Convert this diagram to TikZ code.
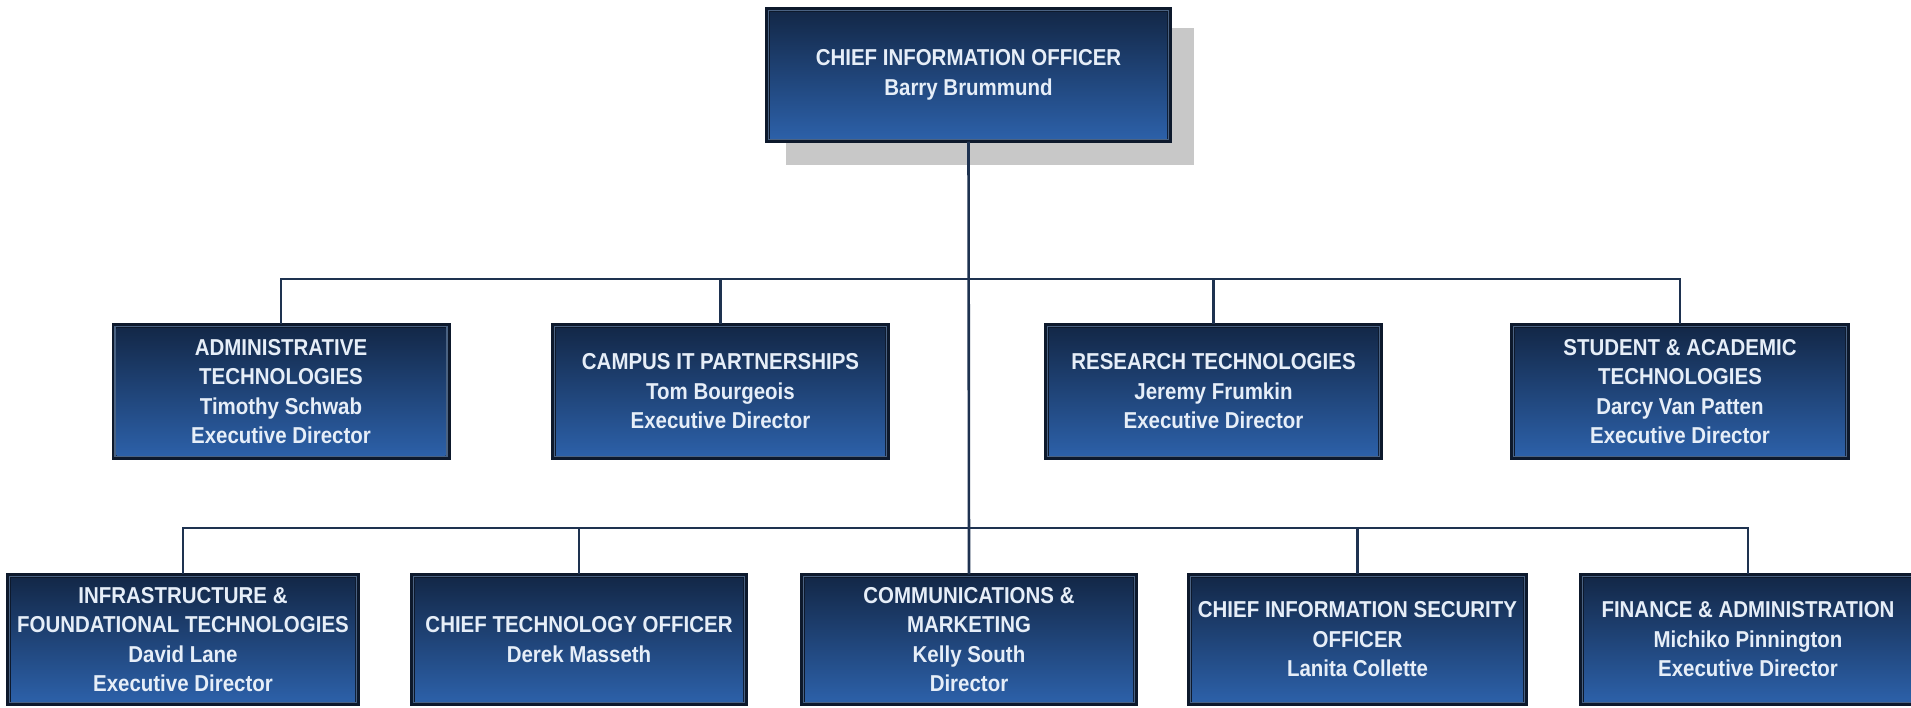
\documentclass[tikz,border=0pt]{standalone}
\usepackage{fontspec}
\setmainfont{Liberation Sans}
% slightly narrowed face for the box captions
\newfontfamily\boxfont[FakeStretch=0.89]{Liberation Sans}
\definecolor{frame}{HTML}{0D192C}
\definecolor{edge}{HTML}{4A6282}
\definecolor{topblue}{HTML}{132848}
\definecolor{botblue}{HTML}{2C60A8}
\definecolor{ink}{HTML}{E6EEF8}
\definecolor{wire}{HTML}{1E3250}
\definecolor{shadowgray}{HTML}{C8C8C8}
\begin{document}
\begin{tikzpicture}[x=1pt,y=1pt,
  orgbox/.style={rectangle, inner sep=0pt, outer sep=0pt, fill=frame,
    minimum height=#1, align=center, text=ink,
    font=\boxfont\fontsize{23}{29.5}\selectfont\bfseries,
    path picture={
      \draw[edge, line width=1.2pt]
        ([shift={(3.5pt,3.5pt)}]path picture bounding box.south west) rectangle
        ([shift={(-3.5pt,-3.5pt)}]path picture bounding box.north east);
      \shade[top color=topblue, bottom color=botblue]
        ([shift={(5pt,5pt)}]path picture bounding box.south west) rectangle
        ([shift={(-5pt,-5pt)}]path picture bounding box.north east);
    }},
  orgbox/.default=137pt,
  wireline/.style={draw=wire, line width=2.6pt, line cap=rect}]
\useasboundingbox (0,0) rectangle (1911,-707);
\clip (0,0) rectangle (1911,-707);
\fill[white] (0,0) rectangle (1911,-707);

% top: chief information officer, with drop shadow
\fill[shadowgray] (786,-28) rectangle (1194,-165);
\node[orgbox=136pt, minimum width=407pt] (cio) at (968.5,-75)
  {CHIEF INFORMATION OFFICER\\Barry Brummund};

% second row
\node[orgbox, minimum width=339pt] (adm) at (281,-391.5)
  {ADMINISTRATIVE\\TECHNOLOGIES\\Timothy Schwab\\Executive Director};
\node[orgbox, minimum width=339pt] (cit) at (720.5,-391.5)
  {CAMPUS IT PARTNERSHIPS\\Tom Bourgeois\\Executive Director};
\node[orgbox, minimum width=339pt] (res) at (1213.5,-391.5)
  {RESEARCH TECHNOLOGIES\\Jeremy Frumkin\\Executive Director};
\node[orgbox, minimum width=340pt] (sat) at (1680,-391.5)
  {STUDENT \& ACADEMIC\\TECHNOLOGIES\\Darcy Van Patten\\Executive Director};

% third row
\node[orgbox=133pt, minimum width=354pt] (ift) at (183,-639.5)
  {INFRASTRUCTURE \&\\FOUNDATIONAL TECHNOLOGIES\\David Lane\\Executive Director};
\node[orgbox=133pt, minimum width=338pt] (cto) at (579,-639.5)
  {CHIEF TECHNOLOGY OFFICER\\Derek Masseth};
\node[orgbox=133pt, minimum width=338pt] (com) at (969,-639.5)
  {COMMUNICATIONS \&\\MARKETING\\Kelly South\\Director};
\node[orgbox=133pt, minimum width=341pt] (ciso) at (1357.5,-639.5)
  {CHIEF INFORMATION SECURITY\\OFFICER\\Lanita Collette};
\node[orgbox=133pt, minimum width=338pt] (fin) at (1748,-639.5)
  {FINANCE \& ADMINISTRATION\\Michiko Pinnington\\Executive Director};

% connectors
\coordinate (busA) at (969,-279);
\coordinate (busB) at (969,-528);
\draw[wireline] (cio.south) -- (com.north);
\foreach \n in {adm,cit,res,sat}
  \draw[wireline] (\n.north) |- (busA);
\foreach \n in {ift,cto,ciso,fin}
  \draw[wireline] (\n.north) |- (busB);
\end{tikzpicture}
\end{document}
